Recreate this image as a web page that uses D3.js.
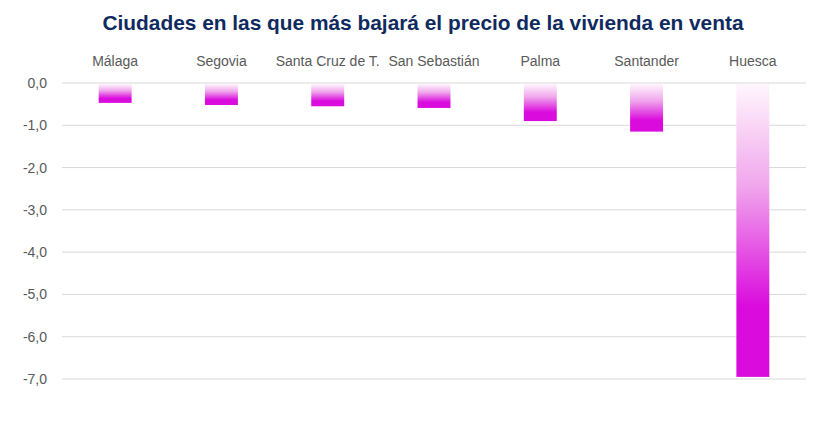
<!DOCTYPE html>
<html>
<head>
<meta charset="utf-8">
<script src="https://cdn.jsdelivr.net/npm/d3@7"></script>
<style>
  body { margin: 0; background: #fff; }
  text { font-family: "Liberation Sans Narrow", "Liberation Sans", sans-serif; }
</style>
</head>
<body>
<script>
var ciudades = ["Málaga", "Segovia", "Santa Cruz de T.", "San Sebastián", "Palma", "Santander", "Huesca"];
var valores = [-0.47, -0.52, -0.55, -0.59, -0.90, -1.15, -6.95];
var ticks = [0, -1, -2, -3, -4, -5, -6, -7];

var width = 840, height = 421;
var plotLeft = 62, plotRight = 806, plotTop = 83, plotBottom = 379;

var svg = d3.select("body")
    .append("svg")
    .attr("width", width)
    .attr("height", height);

var x = d3.scaleBand()
    .domain(ciudades)
    .range([plotLeft, plotRight])
    .paddingInner(0.69)
    .paddingOuter(0.345);

var y = d3.scaleLinear()
    .domain([0, -7])
    .range([plotTop, plotBottom]);

// gradient used by every bar
var grad = svg.append("defs").append("linearGradient")
    .attr("id", "barra")
    .attr("x1", 0).attr("y1", 0)
    .attr("x2", 0).attr("y2", 1);
grad.append("stop").attr("offset", "0%").attr("stop-color", "#fff6fd");
grad.append("stop").attr("offset", "35%").attr("stop-color", "#f0a6ec");
grad.append("stop").attr("offset", "76%").attr("stop-color", "#da0bdd");
grad.append("stop").attr("offset", "100%").attr("stop-color", "#da0bdd");

// title
svg.append("text")
    .attr("x", 423)
    .attr("y", 30)
    .attr("text-anchor", "middle")
    .attr("font-size", 21)
    .attr("font-weight", "bold")
    .attr("fill", "#0f2a5e")
    .attr("textLength", 641)
    .attr("lengthAdjust", "spacingAndGlyphs")
    .text("Ciudades en las que más bajará el precio de la vivienda en venta");

// gridlines
svg.selectAll(".grid")
    .data(ticks)
    .enter()
    .append("line")
    .attr("x1", plotLeft)
    .attr("x2", plotRight)
    .attr("y1", function(d) { return y(d); })
    .attr("y2", function(d) { return y(d); })
    .attr("stroke", "#d9d9d9")
    .attr("stroke-width", 1);

// y labels
svg.selectAll(".ylab")
    .data(ticks)
    .enter()
    .append("text")
    .attr("x", 47)
    .attr("y", function(d) { return y(d) + 5; })
    .attr("text-anchor", "end")
    .attr("font-size", 14)
    .attr("fill", "#595959")
    .text(function(d) { return d3.format(".1f")(d).replace("−", "-").replace(".", ","); });

// category labels
svg.selectAll(".xlab")
    .data(ciudades)
    .enter()
    .append("text")
    .attr("x", function(d) { return x(d) + x.bandwidth() / 2; })
    .attr("y", 66)
    .attr("text-anchor", "middle")
    .attr("font-size", 14)
    .attr("fill", "#595959")
    .text(function(d) { return d; });

// bars
svg.selectAll(".bar")
    .data(valores)
    .enter()
    .append("rect")
    .attr("x", function(d, i) { return x(ciudades[i]); })
    .attr("y", y(0) + 1)
    .attr("width", x.bandwidth())
    .attr("height", function(d) { return y(d) - y(0) - 1; })
    .attr("fill", "url(#barra)");
</script>
</body>
</html>
